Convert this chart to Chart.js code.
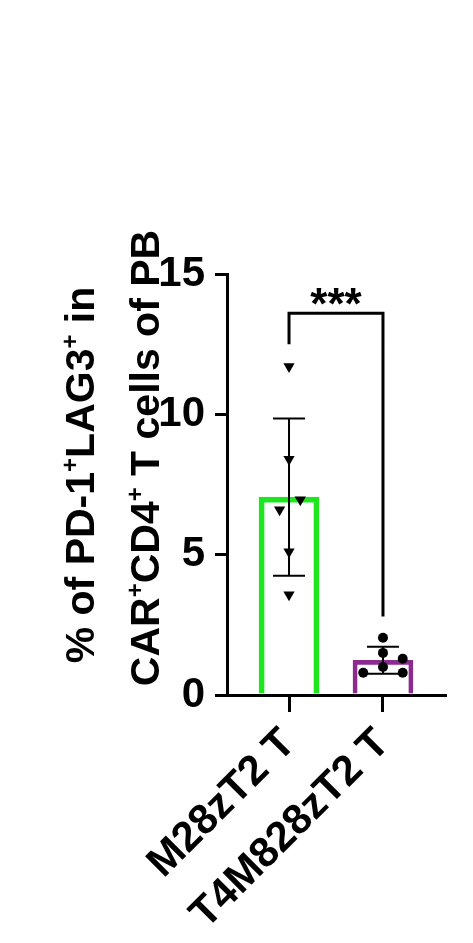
<!DOCTYPE html>
<html>
<head>
<meta charset="utf-8">
<script src="https://cdn.jsdelivr.net/npm/chart.js@4"></script>
<style>
html,body{margin:0;padding:0;background:#fff;}
#wrap{width:473px;height:943px;position:relative;}
</style>
</head>
<body>
<div id="wrap"><canvas id="c"></canvas></div>
<script>
const categories = ['M28zT2 T', 'T4M828zT2 T'];
const barMeans = [7.05, 1.235];
const barSD = [2.8, 0.48];
const greenPoints = [11.7, 8.4, 6.96, 6.6, 5.1, 3.57];
const greenJitter = [0, 0, 0.12, -0.1, 0, 0];
const purplePoints = [2.04, 1.5, 1.29, 1.0, 0.79, 0.79];
const purpleJitter = [0, 0, 0.21, 0, -0.21, 0.21];
const yTicks = [0, 5, 10, 15];
const sigBracket = {y: 13.6, leftEnd: 12.5, rightEnd: 2.8, label: '***'};
const titleLines = [
  [['% of PD-1', 0], ['+', 1], ['LAG3', 0], ['+', 1], [' in', 0]],
  [['CAR', 0], ['+', 1], ['CD4', 0], ['+', 1], [' T cells of PB', 0]]
];

const FONT = '"Liberation Sans", Arial, sans-serif';
const GREEN = '#1ee61e';
const PURPLE = '#8c2b8f';

const overlay = {
  id: 'overlay',
  afterDatasetDraw(chart, args) {
    if (args.index !== 0) return;
    const ctx = chart.ctx, xs = chart.scales.x, ys = chart.scales.y;
    ctx.save();
    ctx.strokeStyle = '#000';
    ctx.lineWidth = 2;
    const capW = [32, 32];
    barMeans.forEach((m, i) => {
      const x = xs.getPixelForValue(i);
      const yt = ys.getPixelForValue(m + barSD[i]);
      const yb = ys.getPixelForValue(m - barSD[i]);
      ctx.beginPath();
      ctx.moveTo(x, yt); ctx.lineTo(x, yb);
      ctx.moveTo(x - capW[i]/2, yt); ctx.lineTo(x + capW[i]/2, yt);
      ctx.moveTo(x - capW[i]/2, yb); ctx.lineTo(x + capW[i]/2, yb);
      ctx.stroke();
    });
    ctx.restore();
  },
  afterDraw(chart) {
    const ctx = chart.ctx, xs = chart.scales.x, ys = chart.scales.y;
    ctx.save();
    // significance bracket
    const x0 = xs.getPixelForValue(0), x1 = xs.getPixelForValue(1);
    const yb = ys.getPixelForValue(sigBracket.y);
    ctx.strokeStyle = '#000';
    ctx.lineWidth = 3;
    ctx.lineJoin = 'miter';
    ctx.beginPath();
    ctx.moveTo(x0, ys.getPixelForValue(sigBracket.leftEnd));
    ctx.lineTo(x0, yb);
    ctx.lineTo(x1, yb);
    ctx.lineTo(x1, ys.getPixelForValue(sigBracket.rightEnd));
    ctx.stroke();
    ctx.fillStyle = '#000';
    ctx.font = 'bold 44px ' + FONT;
    ctx.textAlign = 'center';
    ctx.textBaseline = 'alphabetic';
    ctx.fillText(sigBracket.label, (x0 + x1) / 2, yb + 6);
    // y axis title (rotated, two lines with superscripts)
    const centers = [[83, 475], [148, 458]];
    titleLines.forEach((segs, li) => {
      const big = 'bold 41px ' + FONT, small = 'bold 24px ' + FONT;
      let total = 0;
      segs.forEach(([t, sup]) => { ctx.font = sup ? small : big; total += ctx.measureText(t).width; });
      ctx.save();
      ctx.translate(centers[li][0], centers[li][1]);
      ctx.rotate(-Math.PI / 2);
      ctx.textAlign = 'left';
      ctx.textBaseline = 'middle';
      let pos = -total / 2;
      segs.forEach(([t, sup]) => {
        ctx.font = sup ? small : big;
        ctx.fillText(t, pos, sup ? -12 : 0);
        pos += ctx.measureText(t).width;
      });
      ctx.restore();
    });
    ctx.restore();
  }
};

new Chart(document.getElementById('c'), {
  type: 'bar',
  data: {
    datasets: [
      {
        type: 'bar',
        order: 2,
        data: barMeans.map((v, i) => ({x: i, y: v})),
        backgroundColor: 'rgba(255,255,255,0)',
        borderColor: [GREEN, PURPLE],
        borderWidth: [5, 4],
        borderSkipped: 'bottom',
        barThickness: 60
      },
      {
        type: 'scatter',
        order: 1,
        data: greenPoints.map((v, i) => ({x: 0 + greenJitter[i], y: v})),
        pointStyle: 'triangle',
        rotation: 180,
        radius: 6.5,
        backgroundColor: '#000',
        borderColor: '#000',
        borderWidth: 0
      },
      {
        type: 'scatter',
        order: 0,
        data: purplePoints.map((v, i) => ({x: 1 + purpleJitter[i], y: v})),
        pointStyle: 'circle',
        radius: 5,
        backgroundColor: '#000',
        borderColor: '#000',
        borderWidth: 0
      }
    ]
  },
  options: {
    responsive: true,
    maintainAspectRatio: false,
    animation: false,
    layout: {padding: {top: 274, right: 28, left: 0, bottom: 0}},
    plugins: {legend: {display: false}, tooltip: {enabled: false}},
    scales: {
      x: {
        type: 'linear',
        offset: false,
        min: -0.66,
        max: 1.66,
        afterBuildTicks(scale) { scale.ticks = [{value: 0}, {value: 1}]; },
        afterFit(scale) { scale.height = 248; },
        ticks: {
          callback: (v) => categories[v],
          color: '#000',
          font: {family: FONT, size: 42, weight: 'bold'},
          minRotation: 45,
          maxRotation: 45,
          padding: 7,
          autoSkip: false
        },
        grid: {offset: false, drawOnChartArea: false, drawTicks: true, tickLength: 17, color: '#000', lineWidth: 3},
        border: {display: true, color: '#000', width: 3}
      },
      y: {
        type: 'linear',
        min: 0,
        max: 15,
        afterBuildTicks(scale) { scale.ticks = yTicks.map(v => ({value: v})); },
        afterFit(scale) { scale.width = 227; },
        ticks: {
          color: '#000',
          font: {family: FONT, size: 42, weight: 'bold'},
          padding: 10
        },
        grid: {drawOnChartArea: false, drawTicks: true, tickLength: 12, color: '#000', lineWidth: 3},
        border: {display: true, color: '#000', width: 3}
      }
    }
  },
  plugins: [overlay]
});
</script>
</body>
</html>
